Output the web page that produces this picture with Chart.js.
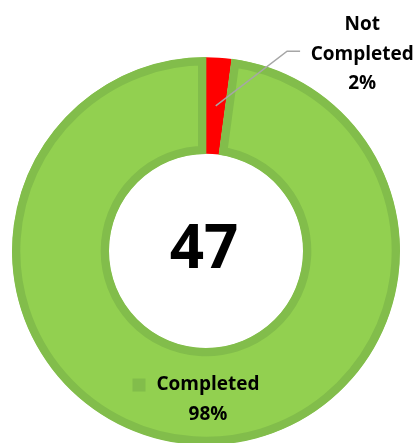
<!DOCTYPE html>
<html>
<head>
<meta charset="utf-8">
<script src="https://cdn.jsdelivr.net/npm/chart.js@4/dist/chart.umd.min.js"></script>
<style>
  html, body { margin: 0; padding: 0; background: #fff; }
  #wrap { width: 419px; height: 443px; overflow: hidden; position: relative; }
  canvas { display: block; }
</style>
</head>
<body>
<div id="wrap"><canvas id="c" width="419" height="450"></canvas></div>
<script>
const categories = ['Not Completed', 'Completed'];
const counts = [1, 46];
const percentLabels = ['2%', '98%'];
const sliceColors = ['#FF0000', '#92D050'];
const borderColors = ['#FF0000', '#82BD4B'];

const FONT = '"Open Sans", "DejaVu Sans", sans-serif';

const labelPlugin = {
  id: 'labels',
  afterDraw(chart) {
    const ctx = chart.ctx;
    const meta = chart.getDatasetMeta(0);
    const total = counts.reduce((a, b) => a + b, 0);
    const a0 = meta.data[0].getProps(['x','y','startAngle','endAngle','innerRadius','outerRadius'], true);
    const cx = a0.x, cy = a0.y, R = a0.outerRadius, r = a0.innerRadius;

    ctx.save();
    // center total
    ctx.fillStyle = '#000';
    ctx.textAlign = 'center';
    ctx.textBaseline = 'middle';
    ctx.font = 'bold 60px ' + FONT;
    ctx.fillText(String(total), cx - 2, cy);

    // Not Completed label with leader line
    const mid0 = (a0.startAngle + a0.endAngle) / 2;
    const ar = (R + r) / 2;
    const px = cx + Math.cos(mid0) * ar, py = cy + Math.sin(mid0) * ar;
    const ex = cx + R * 0.418, ey = cy - R * 1.03;
    ctx.strokeStyle = '#A6A6A6';
    ctx.lineWidth = 1.5;
    ctx.beginPath();
    ctx.moveTo(px, py);
    ctx.lineTo(ex, ey);
    ctx.lineTo(ex + 13, ey);
    ctx.stroke();
    ctx.font = 'bold 19px ' + FONT;
    ctx.fillStyle = '#000';
    const lx = cx + R * 0.805;
    const parts = ['Not', 'Completed', percentLabels[0]];
    parts.forEach((t, i) => ctx.fillText(t, lx, cy - R * 1.165 + i * 29.5));

    // Completed label with legend key
    const a1 = meta.data[1].getProps(['startAngle','endAngle'], true);
    const mid1 = (a1.startAngle + a1.endAngle) / 2;
    const br = R * 0.77;
    const bx = cx + Math.cos(mid1) * br, by = cy + Math.sin(mid1) * br;
    ctx.font = 'bold 19px ' + FONT;
    const tw = ctx.measureText(categories[1]).width;
    const sq = 13, gap = 11;
    const blockW = sq + gap + tw;
    const left = bx - blockW / 2;
    ctx.fillStyle = borderColors[1];
    ctx.fillRect(left, by - 15 - sq / 2, sq, sq);
    ctx.fillStyle = '#000';
    ctx.textAlign = 'left';
    ctx.fillText(categories[1], left + sq + gap, by - 15);
    ctx.textAlign = 'center';
    ctx.fillText(percentLabels[1], bx + 12, by + 15);
    ctx.restore();
  }
};

new Chart(document.getElementById('c'), {
  type: 'doughnut',
  data: {
    labels: categories,
    datasets: [{
      data: counts,
      backgroundColor: sliceColors,
      borderColor: borderColors,
      borderWidth: [0, 8],
      borderAlign: 'inner',
      hoverOffset: 0
    }]
  },
  options: {
    responsive: false,
    animation: false,
    cutout: '50%',
    layout: { padding: { left: 12, right: 19, top: 57, bottom: 5 } },
    plugins: { legend: { display: false }, tooltip: { enabled: false } }
  },
  plugins: [labelPlugin]
});
</script>
</body>
</html>
